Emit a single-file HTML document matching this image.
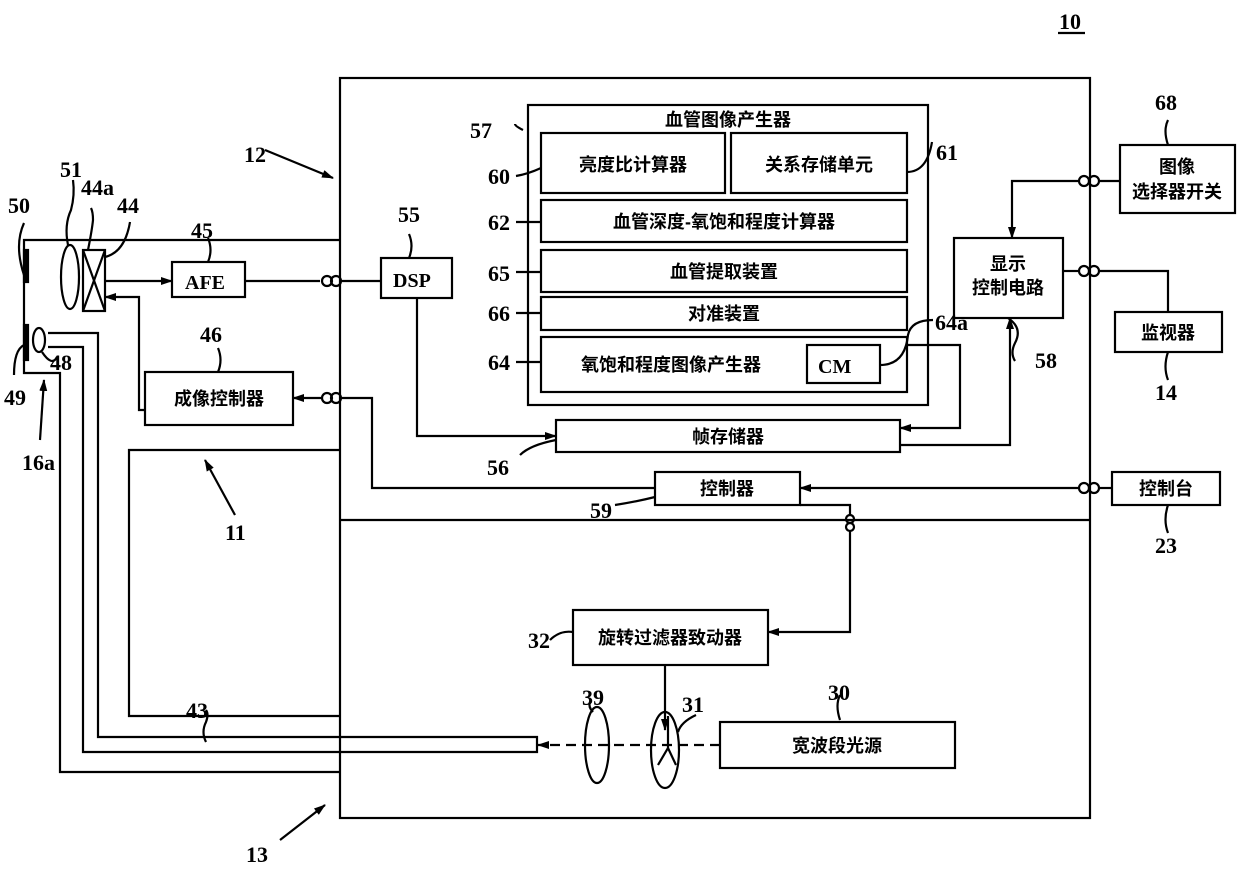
<!DOCTYPE html>
<html><head><meta charset="utf-8"><style>
html,body{margin:0;padding:0;background:#fff}
svg{display:block}
text{font-family:"Liberation Serif","Noto Sans CJK SC",serif;font-weight:bold;fill:#000}
.c{font-family:"Liberation Sans","Noto Sans CJK SC",sans-serif;font-size:18px;font-weight:bold}
.n{font-size:22px}
</style></head><body>
<svg width="1240" height="870" viewBox="0 0 1240 870" xmlns="http://www.w3.org/2000/svg">
<defs><marker id="a" markerWidth="12" markerHeight="8" refX="11" refY="4" orient="auto" markerUnits="userSpaceOnUse"><path d="M0,0L12,4L0,8z" fill="#000"/></marker></defs>
<g fill="none" stroke="#000" stroke-width="2.2">
<rect x="340" y="78" width="750" height="740"/>
<line x1="340" y1="520" x2="1090" y2="520"/>
<polyline points="340,240 24,240 24,373 60,373 60,772 340,772"/>
<polyline points="48,333 98,333 98,737 537,737 537,752 83,752 83,347 48,347"/>
<polyline points="340,450 129,450 129,716 340,716"/>
<rect x="24" y="250" width="4" height="32" fill="#000"/>
<rect x="24" y="325" width="4" height="35" fill="#000"/>
<ellipse cx="70" cy="277" rx="9" ry="32"/>
<rect x="83" y="250" width="22" height="61"/>
<line x1="83" y1="250" x2="105" y2="311"/><line x1="105" y1="250" x2="83" y2="311"/>
<ellipse cx="39" cy="340" rx="6" ry="12"/>
<rect x="172" y="262" width="73" height="35"/>
<line x1="105" y1="281" x2="172" y2="281" marker-end="url(#a)"/>
<line x1="245" y1="281" x2="320" y2="281"/>
<line x1="342" y1="281" x2="381" y2="281"/>
<circle cx="327" cy="281" r="5"/><circle cx="336" cy="281" r="5"/>
<rect x="381" y="258" width="71" height="40"/>
<rect x="145" y="372" width="148" height="53"/>
<polyline points="145,410 139,410 139,297 105,297" marker-end="url(#a)"/>
<line x1="321" y1="398" x2="293" y2="398" marker-end="url(#a)"/>
<circle cx="327" cy="398" r="5"/><circle cx="336" cy="398" r="5"/>
<polyline points="342,398 372,398 372,488 655,488"/>
<rect x="528" y="105" width="400" height="300"/>
<rect x="541" y="133" width="184" height="60"/>
<rect x="731" y="133" width="176" height="60"/>
<rect x="541" y="200" width="366" height="42"/>
<rect x="541" y="250" width="366" height="42"/>
<rect x="541" y="297" width="366" height="33"/>
<rect x="541" y="337" width="366" height="55"/>
<rect x="807" y="345" width="73" height="38"/>
<rect x="556" y="420" width="344" height="32"/>
<polyline points="417,298 417,436 556,436" marker-end="url(#a)"/>
<polyline points="907,345 960,345 960,428 900,428" marker-end="url(#a)"/>
<polyline points="900,445 1010,445 1010,318" marker-end="url(#a)"/>
<rect x="954" y="238" width="109" height="80"/>
<polyline points="1078,181 1012,181 1012,238" marker-end="url(#a)"/>
<circle cx="1084" cy="181" r="5"/><circle cx="1094" cy="181" r="5"/>
<line x1="1099" y1="181" x2="1120" y2="181"/>
<rect x="1120" y="145" width="115" height="68"/>
<line x1="1063" y1="271" x2="1078" y2="271"/>
<circle cx="1084" cy="271" r="5"/><circle cx="1094" cy="271" r="5"/>
<polyline points="1099,271 1168,271 1168,312"/>
<rect x="1115" y="312" width="107" height="40"/>
<rect x="1112" y="472" width="108" height="33"/>
<line x1="1112" y1="488" x2="1100" y2="488"/>
<circle cx="1084" cy="488" r="5"/><circle cx="1094" cy="488" r="5"/>
<line x1="1078" y1="488" x2="800" y2="488" marker-end="url(#a)"/>
<rect x="655" y="472" width="145" height="33"/>
<polyline points="800,505 850,505 850,515"/>
<circle cx="850" cy="519" r="4"/><circle cx="850" cy="527" r="4"/>
<polyline points="850,531 850,632 768,632" marker-end="url(#a)"/>
<rect x="573" y="610" width="195" height="55"/>
<line x1="665" y1="665" x2="665" y2="730" marker-end="url(#a)"/>
<ellipse cx="665" cy="750" rx="14" ry="38"/>
<path d="M658,765 L668,748 L676,765 M668,748 L668,716"/>
<ellipse cx="597" cy="745" rx="12" ry="38"/>
<rect x="720" y="722" width="235" height="46"/>
<line x1="720" y1="745" x2="538" y2="745" stroke-dasharray="10,6" marker-end="url(#a)"/>
<path d="M523,130 q-8,-4 -8,-6"/>
<path d="M516,176 q12,-2 25,-8"/>
<path d="M907,172 q20,0 25,-30"/>
<path d="M516,222 q12,0 25,0"/>
<path d="M516,272 q12,0 25,0"/>
<path d="M516,313 q12,0 25,0"/>
<path d="M516,362 q12,0 25,0"/>
<path d="M880,365 q25,0 28,-30 q3,-15 25,-15"/>
<path d="M520,455 q10,-10 36,-15"/>
<path d="M615,505 q20,-3 40,-8"/>
<path d="M550,640 q10,-10 23,-8"/>
<path d="M1008,318 q15,10 7,25 q-5,10 0,18"/>
<path d="M1168,145 q-5,-15 0,-25"/>
<path d="M1168,352 q-5,15 0,28"/>
<path d="M1168,505 q-5,15 0,28"/>
<path d="M208,262 q5,-12 0,-24"/>
<path d="M218,372 q5,-12 0,-24"/>
<path d="M409,258 q5,-12 0,-24"/>
<path d="M105,257 q20,-5 25,-35"/>
<path d="M88,250 q4,-20 5,-30 q0,-8 -2,-12"/>
<path d="M68,245 q-4,-20 3,-35 q4,-15 2,-30"/>
<path d="M24,275 q-10,-30 0,-52"/>
<path d="M24,345 q-10,5 -10,30"/>
<path d="M42,352 q10,15 15,5"/>
<path d="M593,712 q-5,-5 -3,-10"/>
<path d="M678,732 q3,-10 18,-17"/>
<path d="M840,720 q-5,-15 0,-25"/>
<path d="M206,742 q-5,-10 0,-20 q3,-8 0,-12"/>
<line x1="265" y1="150" x2="333" y2="178" marker-end="url(#a)"/>
<line x1="235" y1="515" x2="205" y2="460" marker-end="url(#a)"/>
<line x1="280" y1="840" x2="325" y2="805" marker-end="url(#a)"/>
<line x1="40" y1="440" x2="44" y2="380" marker-end="url(#a)"/>
<line x1="1058" y1="33" x2="1085" y2="33"/>
</g>
<text class="n" x="1059" y="29">10</text>
<text class="n" x="244" y="162">12</text>
<text class="n" x="225" y="540">11</text>
<text class="n" x="246" y="862">13</text>
<text class="n" x="22" y="470">16a</text>
<text class="n" x="8" y="213">50</text>
<text class="n" x="60" y="177">51</text>
<text class="n" x="81" y="195">44a</text>
<text class="n" x="117" y="213">44</text>
<text class="n" x="191" y="238">45</text>
<text class="n" x="200" y="342">46</text>
<text class="n" x="398" y="222">55</text>
<text class="n" x="4" y="405">49</text>
<text class="n" x="50" y="370">48</text>
<text class="n" x="470" y="138">57</text>
<text class="n" x="488" y="184">60</text>
<text class="n" x="488" y="230">62</text>
<text class="n" x="488" y="281">65</text>
<text class="n" x="488" y="321">66</text>
<text class="n" x="488" y="370">64</text>
<text class="n" x="487" y="475">56</text>
<text class="n" x="590" y="518">59</text>
<text class="n" x="528" y="648">32</text>
<text class="n" x="582" y="705">39</text>
<text class="n" x="682" y="712">31</text>
<text class="n" x="828" y="700">30</text>
<text class="n" x="186" y="718">43</text>
<text class="n" x="936" y="160">61</text>
<text class="n" x="935" y="330">64a</text>
<text class="n" x="1035" y="368">58</text>
<text class="n" x="1155" y="110">68</text>
<text class="n" x="1155" y="400">14</text>
<text class="n" x="1155" y="553">23</text>
<text x="185" y="289" style="font-size:20px">AFE</text>
<text x="393" y="287" style="font-size:20px">DSP</text>
<text x="818" y="373" style="font-size:20px">CM</text>
<text class="c" x="219" y="405" text-anchor="middle">成像控制器</text>
<text class="c" x="728" y="126" text-anchor="middle">血管图像产生器</text>
<text class="c" x="633" y="171" text-anchor="middle">亮度比计算器</text>
<text class="c" x="819" y="171" text-anchor="middle">关系存储单元</text>
<text class="c" x="724" y="228" text-anchor="middle">血管深度-氧饱和程度计算器</text>
<text class="c" x="724" y="278" text-anchor="middle">血管提取装置</text>
<text class="c" x="724" y="320" text-anchor="middle">对准装置</text>
<text class="c" x="671" y="371" text-anchor="middle">氧饱和程度图像产生器</text>
<text class="c" x="728" y="443" text-anchor="middle">帧存储器</text>
<text class="c" x="727" y="495" text-anchor="middle">控制器</text>
<text class="c" x="670" y="644" text-anchor="middle">旋转过滤器致动器</text>
<text class="c" x="837" y="752" text-anchor="middle">宽波段光源</text>
<text class="c" x="1008" y="270" text-anchor="middle">显示</text>
<text class="c" x="1008" y="294" text-anchor="middle">控制电路</text>
<text class="c" x="1177" y="173" text-anchor="middle">图像</text>
<text class="c" x="1177" y="198" text-anchor="middle">选择器开关</text>
<text class="c" x="1168" y="339" text-anchor="middle">监视器</text>
<text class="c" x="1166" y="495" text-anchor="middle">控制台</text>
</svg>
</body></html>
